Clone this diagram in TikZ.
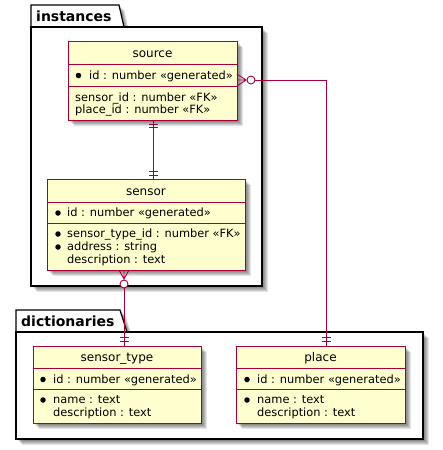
\documentclass[tikz,border=0pt]{standalone}
\usepackage{fontspec}
\setmainfont{DejaVu Sans}
\usetikzlibrary{shadows}
\definecolor{entfill}{HTML}{FEFECE}
\definecolor{entline}{HTML}{A80036}
\begin{document}
\begin{tikzpicture}[x=1pt,y=-1pt,
  softshadow/.style={general shadow={shadow xshift=#1,shadow yshift=-#1,fill=black,opacity=.11}},
  shadowed/.style={softshadow=5.5pt,softshadow=4.5pt,softshadow=3.5pt,softshadow=2.5pt,softshadow=1.5pt},
  pkg/.style={draw=black,line width=1.2pt,fill=white,shadowed},
  pkgname/.style={anchor=base west,inner sep=0pt,font=\fontsize{14}{16}\selectfont\bfseries},
  entity/.style={draw=entline,fill=entfill,line width=1pt,inner sep=0pt,outer sep=0pt,anchor=north west,shadowed},
  divider/.style={draw=entline,line width=1pt},
  etitle/.style={anchor=base,inner sep=0pt,font=\fontsize{12}{14}\selectfont},
  attr/.style={anchor=base west,inner sep=0pt,font=\fontsize{11.4}{13}\selectfont},
  dot/.style={circle,fill=black,inner sep=0pt,minimum size=5.5pt},
  rel/.style={draw=entline,line width=0.9pt},
  zero/.style={draw=entline,line width=0.9pt,fill=white}]
\useasboundingbox (0,0) rectangle (443,450);

% package: instances
\path[pkg] (31,27) -- (31,5) -- (119,5) -- (124,27) -- cycle;
\path[pkg] (31,27) rectangle (262,286);
\node[pkgname] (pinst) at (36,21) {instances};

% package: dictionaries
\path[pkg] (16,332) -- (16,310) -- (120,310) -- (127,332) -- cycle;
\path[pkg] (16,332) rectangle (423,439);
\node[pkgname] (pdict) at (21,326) {dictionaries};

% entity: source
\node[entity,minimum width=169pt,minimum height=79pt] (source) at (68,41) {};
\draw[divider] (68,64) -- (237,64);
\draw[divider] (68,86) -- (237,86);
\node[etitle] (sourceT) at (152.5,57) {source};
\node[dot] (sourceB1) at (78.5,75.5) {};
\node[attr] (sourceA1) at (89,79) {id : number «generated»};
\node[attr] (sourceA2) at (75,101) {sensor\_id : number «FK»};
\node[attr] (sourceA3) at (75,113) {place\_id : number «FK»};

% entity: sensor
\node[entity,minimum width=198pt,minimum height=91pt] (sensor) at (47,179) {};
\draw[divider] (47,202) -- (245,202);
\draw[divider] (47,223) -- (245,223);
\node[etitle] (sensorT) at (146,195) {sensor};
\node[dot] (sensorB1) at (58,213) {};
\node[attr] (sensorA1) at (67,216.5) {id : number «generated»};
\node[dot] (sensorB2) at (58,234) {};
\node[attr] (sensorA2) at (67,237.5) {sensor\_type\_id : number «FK»};
\node[dot] (sensorB3) at (58,247) {};
\node[attr] (sensorA3) at (67,250.5) {address : string};
\node[attr] (sensorA4) at (67,263.5) {description : text};

% entity: sensor_type
\node[entity,minimum width=168pt,minimum height=77pt] (stype) at (33,346) {};
\draw[divider] (33,368) -- (201,368);
\draw[divider] (33,389) -- (201,389);
\node[etitle] (stypeT) at (117,361) {sensor\_type};
\node[dot] (stypeB1) at (43,379.5) {};
\node[attr] (stypeA1) at (53,383) {id : number «generated»};
\node[dot] (stypeB2) at (43,400) {};
\node[attr] (stypeA2) at (53,403.5) {name : text};
\node[attr] (stypeA3) at (53,416.5) {description : text};

% entity: place
\node[entity,minimum width=169pt,minimum height=77pt] (place) at (236,346) {};
\draw[divider] (236,368) -- (405,368);
\draw[divider] (236,389) -- (405,389);
\node[etitle] (placeT) at (320.5,361) {place};
\node[dot] (placeB1) at (247,379.5) {};
\node[attr] (placeA1) at (257,383) {id : number «generated»};
\node[dot] (placeB2) at (247,400) {};
\node[attr] (placeA2) at (257,403.5) {name : text};
\node[attr] (placeA3) at (257,416.5) {description : text};

% source ||--|| sensor
\coordinate (xa) at (153,0);
\draw[rel] (source.south -| xa) -- (sensor.north -| xa);
\draw[rel] (148.5,124) -- (157.5,124) (148.5,127.5) -- (157.5,127.5);
\draw[rel] (148.5,171.5) -- (157.5,171.5) (148.5,175) -- (157.5,175);

% sensor }o--|| sensor_type
\coordinate (xb) at (124,0);
\coordinate (fb) at (124,279);
\draw[rel] (sensor.south -| xb) -- (fb) (119,270) -- (fb) -- (129,270);
\draw[rel] (124,288) -- (stype.north -| xb);
\draw[rel] (119.5,337.5) -- (128.5,337.5) (119.5,341) -- (128.5,341);
\draw[zero] (124,284) circle (4);

% source }o--|| place
\coordinate (yc) at (0,80);
\coordinate (xc) at (326,0);
\coordinate (fc) at (246,80);
\draw[rel] (source.east |- yc) -- (fc) (237,74) -- (fc) -- (237,86);
\draw[rel] (255,80) -| (place.north -| xc);
\draw[rel] (321.5,337.5) -- (330.5,337.5) (321.5,341) -- (330.5,341);
\draw[zero] (251,80) circle (4);
\end{tikzpicture}
\end{document}
